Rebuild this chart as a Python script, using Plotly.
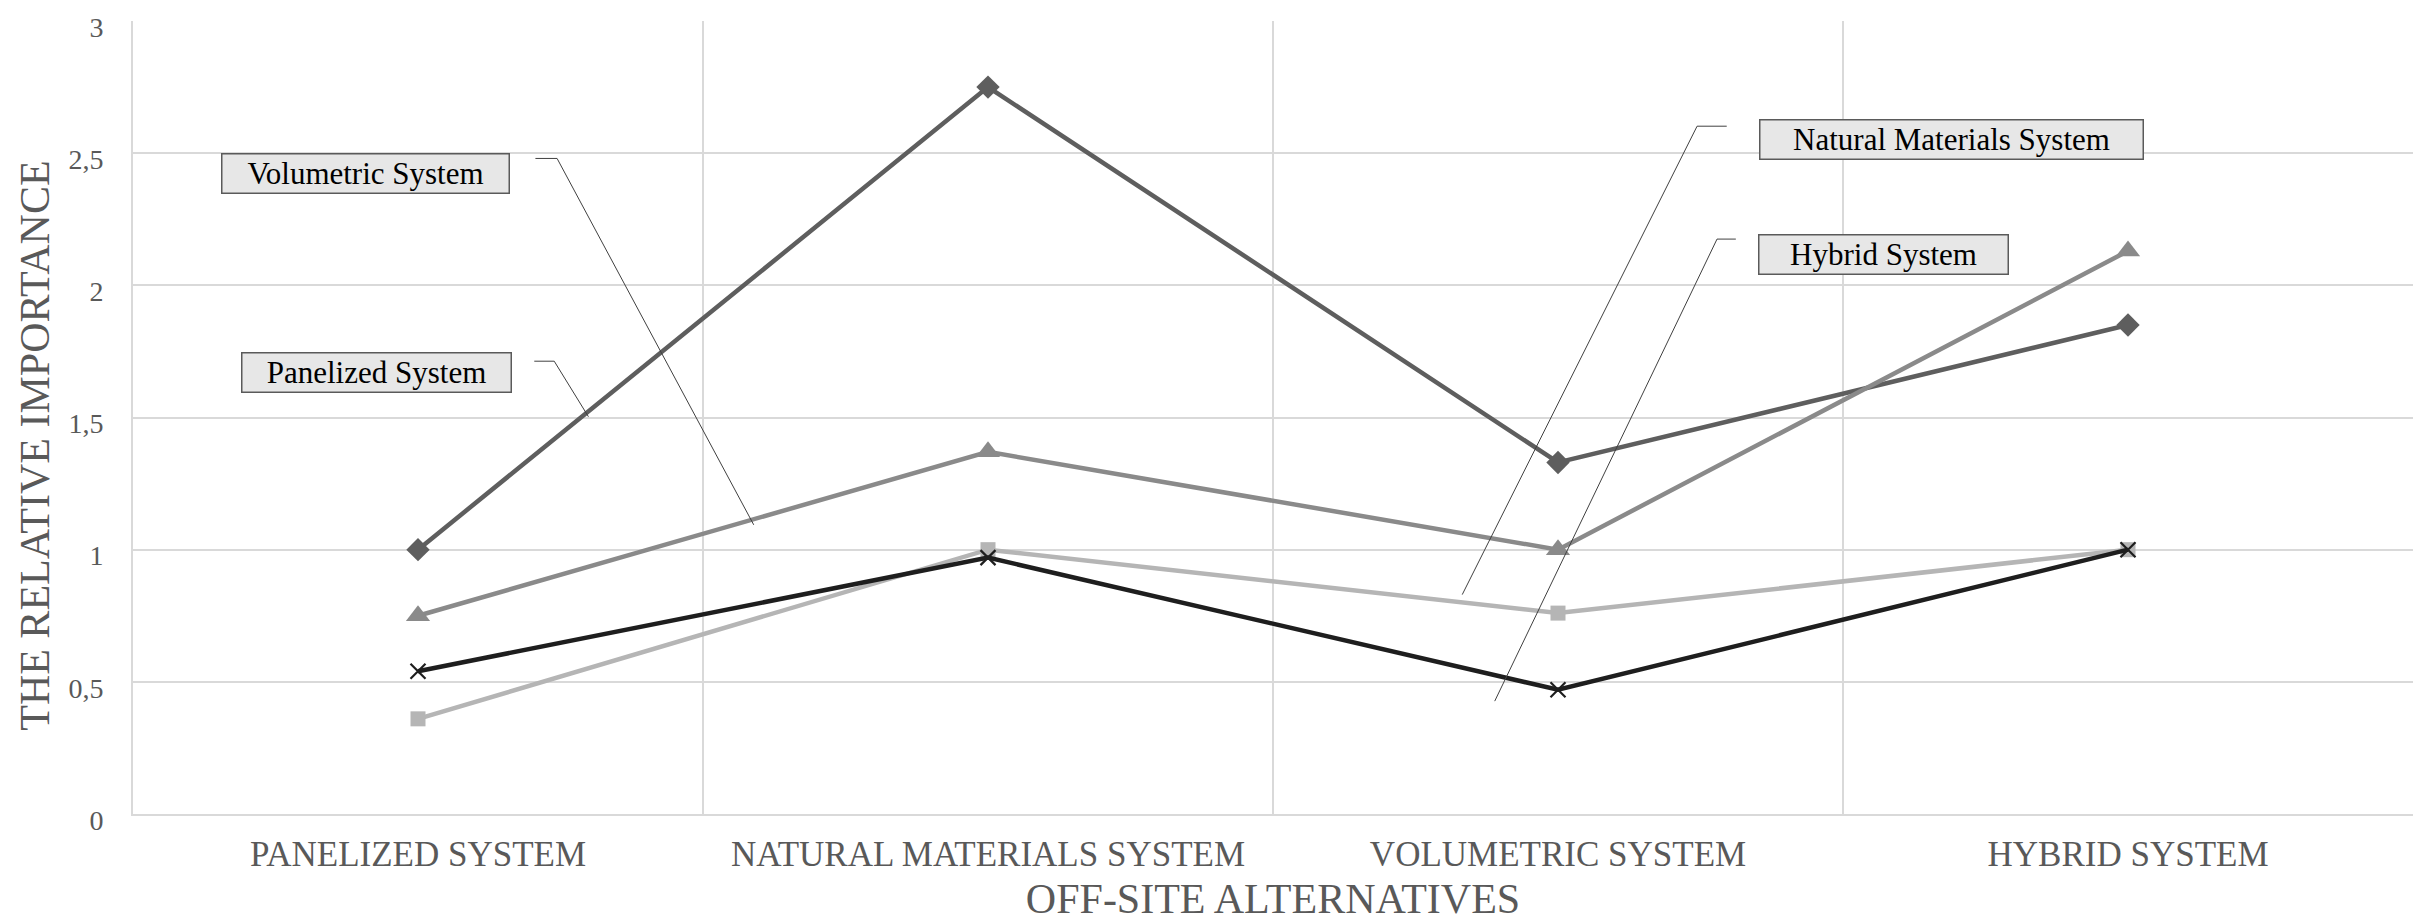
import plotly.graph_objects as go

categories = ["PANELIZED SYSTEM", "NATURAL MATERIALS SYSTEM", "VOLUMETRIC SYSTEM", "HYBRID SYSTEM"]

panelized_vals = [1.0, 2.75, 1.33, 1.85]
volumetric_vals = [0.75, 1.37, 1.0, 2.13]
natural_vals = [0.36, 1.0, 0.76, 1.0]
hybrid_vals = [0.54, 0.97, 0.47, 1.0]

series_names = ["Panelized System", "Volumetric System", "Natural Materials System", "Hybrid System"]
y_ticks = [0, 0.5, 1, 1.5, 2, 2.5, 3]

FONT = "Liberation Serif, Times New Roman, serif"
AXIS_GRAY = "#595959"

fig = go.Figure()

styles = [
    (panelized_vals, "#5e5e5e", "diamond", 18, dict(width=0)),
    (volumetric_vals, "#8a8a8a", "triangle-up", 21, dict(width=0)),
    (natural_vals, "#b5b5b5", "square", 15, dict(width=0)),
    (hybrid_vals, "#1e1e1e", "x-thin", 15, dict(width=2.2, color="#1e1e1e")),
]

for name, (vals, color, symbol, msize, mline) in zip(series_names, styles):
    fig.add_trace(go.Scatter(
        x=categories, y=vals, name=name, mode="lines+markers",
        line=dict(color=color, width=4.5),
        marker=dict(symbol=symbol, size=msize, color=color, line=mline),
        showlegend=False,
    ))

# label boxes: (text, center x, center y, width px)
labels = [
    ("Volumetric System", -0.092, 2.424, 286),
    ("Panelized System", -0.073, 1.67, 268),
    ("Natural Materials System", 2.69, 2.55, 382),
    ("Hybrid System", 2.571, 2.117, 248),
]
for text, lx, ly, w in labels:
    fig.add_annotation(
        x=lx, y=ly, xref="x", yref="y", text=text, showarrow=False,
        font=dict(family=FONT, size=31, color="#000000"),
        bgcolor="#e7e7e7", bordercolor="#5a5a5a", borderwidth=1.5,
        borderpad=0, width=w, height=38, align="center", valign="middle",
    )

# leader lines
leaders = [
    [(0.206, 2.480), (0.244, 2.480), (0.589, 1.094)],
    [(0.204, 1.713), (0.239, 1.713), (0.299, 1.503)],
    [(2.296, 2.602), (2.244, 2.602), (1.832, 0.830)],
    [(2.312, 2.175), (2.279, 2.175), (1.889, 0.427)],
]
for pts in leaders:
    for (x0, y0), (x1, y1) in zip(pts[:-1], pts[1:]):
        fig.add_shape(type="line", xref="x", yref="y", x0=x0, y0=y0, x1=x1, y1=y1,
                      line=dict(color="#404040", width=1))

# y-axis title (placed slightly below centre, as in the reference)
fig.add_annotation(
    x=-0.0431, y=0.464, xref="paper", yref="paper", xanchor="center", yanchor="middle",
    text="THE RELATIVE IMPORTANCE", textangle=-90, showarrow=False,
    font=dict(family=FONT, size=42, color=AXIS_GRAY),
)

# page has an 8px body margin, so the figure is sized to fit the window
fig.update_layout(
    width=2417, height=914,
    margin=dict(l=125, r=12, t=13, b=108, autoexpand=False),
    paper_bgcolor="white", plot_bgcolor="white",
    separators=", ",
    font=dict(family=FONT, color=AXIS_GRAY),
)
fig.update_xaxes(
    type="category", range=[-0.5, 3.5], tickson="boundaries", automargin=False,
    showgrid=True, gridcolor="#d9d9d9", gridwidth=2,
    showline=True, linecolor="#d9d9d9", linewidth=2,
    ticks="", ticklabelstandoff=8,
    tickfont=dict(family=FONT, size=35, color=AXIS_GRAY),
    title=dict(text="OFF-SITE ALTERNATIVES", font=dict(family=FONT, size=42, color=AXIS_GRAY), standoff=22),
    zeroline=False,
)
fig.update_yaxes(
    range=[0, 3], tickvals=y_ticks, automargin=False, ticklabeloverflow="allow",
    showgrid=True, gridcolor="#d9d9d9", gridwidth=2,
    showline=True, linecolor="#d9d9d9", linewidth=2,
    ticks="", ticklabelstandoff=22, ticklabelshift=6,
    tickfont=dict(family=FONT, size=28, color=AXIS_GRAY),
    zeroline=False,
)

fig.write_html("out.html")
